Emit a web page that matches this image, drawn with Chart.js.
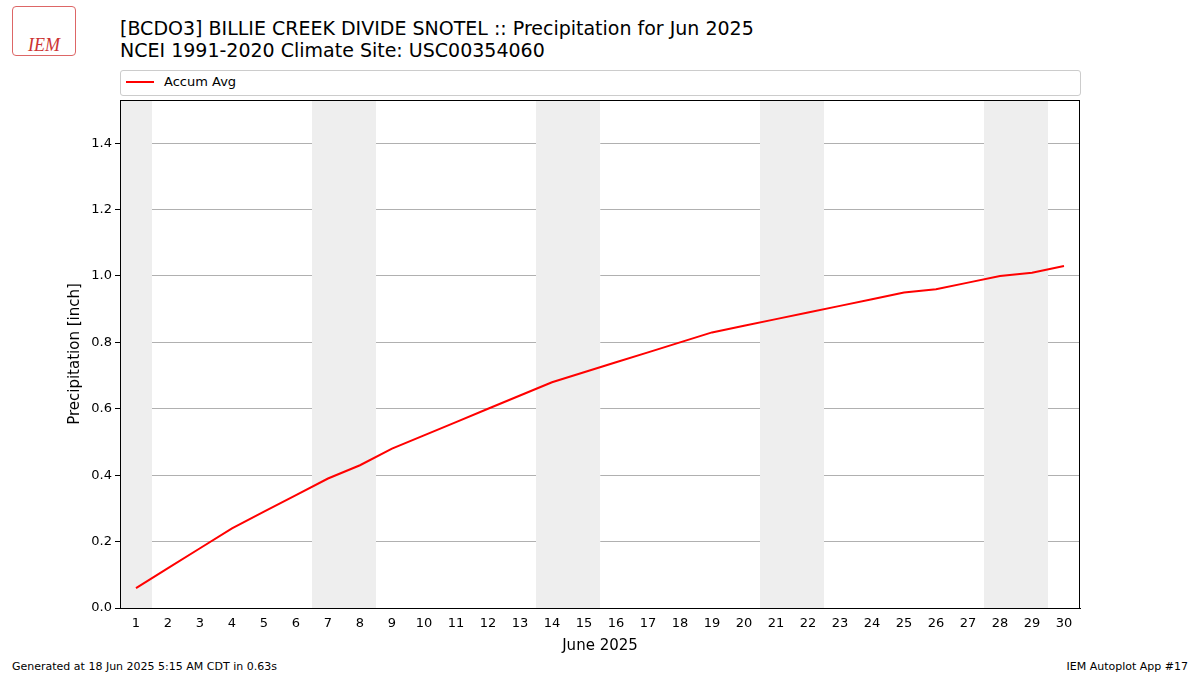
<!DOCTYPE html><html><head><meta charset="utf-8">
<script src="https://cdn.jsdelivr.net/npm/chart.js@4/dist/chart.umd.min.js"></script>
<style>body{margin:0;width:1200px;height:675px;position:relative;font-family:"DejaVu Sans",sans-serif;background:#fff;overflow:hidden}
.t{position:absolute;white-space:nowrap;color:#000}
#c{position:absolute;left:0;top:0}
</style></head><body>
<div class="t" style="left:120px;top:17px;font-size:19px;line-height:22px">[BCDO3] BILLIE CREEK DIVIDE SNOTEL :: Precipitation for Jun 2025<br>NCEI 1991-2020 Climate Site: USC00354060</div>
<div class="t" style="left:12px;top:6px;width:64px;height:50px;border:1px solid #d66;border-radius:4px;color:#c33;font-style:italic;font-family:'Liberation Serif';font-size:18px;padding-top:28px;box-sizing:border-box;text-align:center">IEM</div>
<div style="position:absolute;left:120px;top:70px;width:959px;height:24px;border:1px solid #ccc;border-radius:3px;background:#fff"></div>
<div style="position:absolute;left:126px;top:81px;width:28px;height:2px;background:#f00"></div>
<div class="t" style="left:164px;top:74px;font-size:13px">Accum Avg</div>
<div class="t" style="left:12px;top:660px;font-size:11px">Generated at 18 Jun 2025 5:15 AM CDT in 0.63s</div>
<div class="t" style="right:12px;top:660px;font-size:11px">IEM Autoplot App #17</div>
<canvas id="c" width="1200" height="675"></canvas>
<script>
const days=[1,2,3,4,5,6,7,8,9,10,11,12,13,14,15,16,17,18,19,20,21,22,23,24,25,26,27,28,29,30];
const accumAvg=[0.06,0.12,0.18,0.24,0.29,0.34,0.39,0.43,0.48,0.52,0.56,0.60,0.64,0.68,0.71,0.74,0.77,0.80,0.83,0.85,0.87,0.89,0.91,0.93,0.95,0.96,0.98,1.00,1.01,1.03];
const weekendSpans=[[0.5,1.5],[6.5,8.5],[13.5,15.5],[20.5,22.5],[27.5,29.5]];
const shade={id:'shade',beforeDatasetsDraw(ch){const{ctx,chartArea:a,scales:{x}}=ch;ctx.save();ctx.fillStyle='#eeeeee';
for(const[s,e]of weekendSpans){const l=Math.max(x.getPixelForValue(s),a.left),r=x.getPixelForValue(e);ctx.fillRect(l,a.top,r-l,a.bottom-a.top);}ctx.restore();},
afterDraw(ch){const{ctx,chartArea:a}=ch;ctx.save();ctx.strokeStyle='#000';ctx.lineWidth=1;ctx.strokeRect(a.left+0.5,a.top+0.5,a.right-a.left-1,a.bottom-a.top);ctx.restore();}};
Chart.defaults.font.family='"DejaVu Sans"';Chart.defaults.color='#000';
new Chart(document.getElementById('c'),{type:'line',
data:{datasets:[{label:'Accum Avg',data:days.map((d,i)=>({x:d,y:accumAvg[i]})),borderColor:'#ff0000',borderWidth:2,pointRadius:0,tension:0}]},
options:{responsive:false,animation:false,events:[],
layout:{padding:{left:62,top:100,right:120,bottom:20}},
plugins:{legend:{display:false},tooltip:{enabled:false}},
scales:{x:{type:'linear',min:0.5,max:30.5,afterFit:s=>{s.height=47},
ticks:{stepSize:1,autoSkip:false,font:{size:13},callback:v=>Number.isInteger(v)?v:''},
afterBuildTicks:s=>{s.ticks=days.map(d=>({value:d}))},
grid:{display:false,drawTicks:true,tickLength:5,tickColor:'#000'},border:{color:'#000'},
title:{display:true,text:'June 2025',font:{size:15},padding:{top:2,bottom:0}}},
y:{min:0,max:1.53,afterFit:s=>{s.width=58},
afterBuildTicks:s=>{s.ticks=[0,0.2,0.4,0.6,0.8,1.0,1.2,1.4].map(v=>({value:v}))},
ticks:{font:{size:13},callback:v=>v.toFixed(1)},
grid:{color:'#b0b0b0',tickLength:5,tickColor:'#000'},border:{color:'#000'},
title:{display:true,text:'Precipitation [inch]',font:{size:15},padding:{bottom:4}}}}},
plugins:[shade]});
</script></body></html>
